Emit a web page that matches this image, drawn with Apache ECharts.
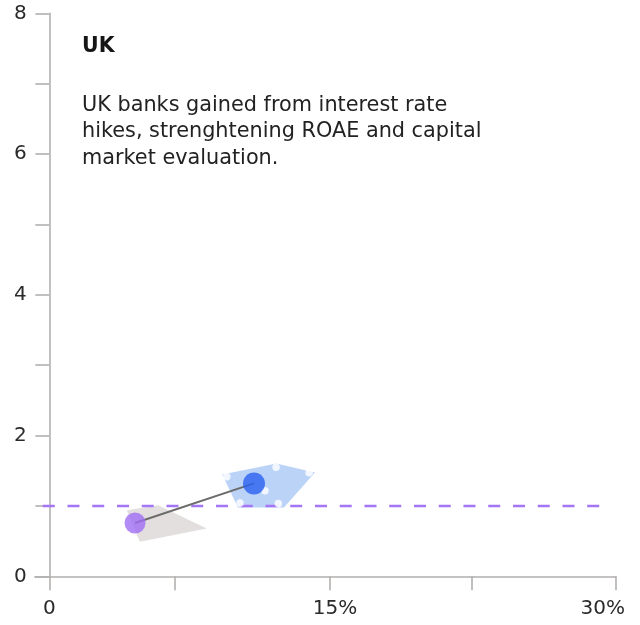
<!DOCTYPE html>
<html>
<head>
<meta charset="utf-8">
<script src="https://cdn.jsdelivr.net/npm/echarts@6/dist/echarts.min.js"></script>
<style>
html,body{margin:0;padding:0;background:#fff;}
#chart{width:640px;height:625px;}
</style>
</head>
<body>
<div id="chart"></div>
<script>
// ---- data ----
const xTickValues = [0, 6.64, 14.87, 22.37, 30];
const xLabelValues = [0, 15, 30];
const yTickValues = [0, 1, 2, 3, 4, 5, 6, 7, 8];
const yLabelValues = [0, 2, 4, 6, 8];

const grayHullX = [4.10, 5.76, 8.34, 4.80];
const grayHullY = [0.94, 1.01, 0.68, 0.49];

const blueHullX = [9.16, 12.03, 14.07, 12.43, 9.99];
const blueHullY = [1.447, 1.603, 1.475, 0.978, 0.978];

const blueDotsX = [9.40, 12.01, 13.76, 12.13, 10.10, 11.42];
const blueDotsY = [1.415, 1.549, 1.472, 1.034, 1.042, 1.216];

const startPoint = [4.54, 0.757];
const endPoint = [10.84, 1.32];

const benchmarkY = 1;
const benchmarkX = [-0.35, 29.6];

const titleText = 'UK';
const bodyText = 'UK banks gained from interest rate\nhikes, strenghtening ROAE and capital\nmarket evaluation.';

// ---- chart ----
const FONT = '"DejaVu Sans", "Noto Sans", sans-serif';
const AXIS_COLOR = '#b3afaf';
const LABEL_COLOR = '#2a2a2a';
const chart = echarts.init(document.getElementById('chart'), null, {renderer: 'canvas'});

function polygonSeries(xs, ys, color, z) {
  return {
    type: 'custom',
    z: z,
    silent: true,
    clip: false,
    data: [[xs[0], ys[0]]],
    renderItem: function (params, api) {
      const pts = xs.map((x, i) => api.coord([x, ys[i]]));
      return {type: 'polygon', shape: {points: pts}, style: {fill: color}};
    }
  };
}

const labelTok = {fontFamily: FONT, fontSize: 20, color: LABEL_COLOR};

const option = {
  animation: false,
  backgroundColor: '#ffffff',
  grid: {left: 34.8, right: 24.3, top: 13.3, bottom: 48.7, containLabel: false},
  xAxis: {
    type: 'value',
    min: -0.77,
    max: 30,
    splitLine: {show: false},
    axisLine: {show: true, onZero: true, lineStyle: {color: AXIS_COLOR, width: 1.6}},
    axisTick: {show: true, length: 14, customValues: xTickValues, lineStyle: {color: AXIS_COLOR, width: 1.6}},
    axisLabel: {
      customValues: xLabelValues,
      margin: 22,
      fontFamily: FONT,
      fontSize: 20,
      color: LABEL_COLOR,
      formatter: v => {
        if (v === 0) return '{z|0}';
        if (v === xLabelValues[xLabelValues.length - 1]) return '{e|' + v + '%}';
        return '{m|' + v + '%}';
      },
      rich: {
        z: Object.assign({}, labelTok),
        m: Object.assign({padding: [0, 0, 0, 5]}, labelTok),
        e: Object.assign({padding: [0, 26, 0, 0]}, labelTok)
      }
    }
  },
  yAxis: {
    type: 'value',
    min: 0,
    max: 8,
    interval: 1,
    splitLine: {show: false},
    axisLine: {show: true, onZero: true, lineStyle: {color: AXIS_COLOR, width: 1.6}},
    axisTick: {show: true, length: 14, customValues: yTickValues, lineStyle: {color: AXIS_COLOR, width: 1.6}},
    axisLabel: {
      customValues: yLabelValues,
      margin: 8,
      fontFamily: FONT,
      fontSize: 20,
      color: LABEL_COLOR
    }
  },
  graphic: [
    {type: 'text', left: 82, top: 36, style: {text: titleText, font: 'bold 20.5px ' + FONT, fill: '#161616'}},
    {type: 'text', left: 82, top: 92, style: {text: bodyText, font: '20.8px ' + FONT, lineHeight: 26.7, fill: '#222222'}}
  ],
  series: [
    polygonSeries(grayHullX, grayHullY, '#e4dfdf', 1),
    polygonSeries(blueHullX, blueHullY, '#bcd3f8', 1),
    {
      type: 'line',
      z: 2,
      silent: true,
      symbol: 'none',
      data: benchmarkX.map(x => [x, benchmarkY]),
      lineStyle: {color: '#a476f5', width: 2.6, type: [12, 12.75]}
    },
    {
      type: 'scatter',
      z: 3,
      silent: true,
      symbolSize: 7.5,
      itemStyle: {color: '#ffffff'},
      data: blueDotsX.map((x, i) => [x, blueDotsY[i]])
    },
    {
      type: 'line',
      z: 4,
      silent: true,
      symbol: 'none',
      data: [startPoint, endPoint],
      lineStyle: {color: '#6b6b6b', width: 2}
    },
    {
      type: 'scatter',
      z: 5,
      silent: true,
      symbolSize: 21,
      itemStyle: {color: '#a06ef4'},
      data: [startPoint]
    },
    {
      type: 'scatter',
      z: 5,
      silent: true,
      symbolSize: 22,
      itemStyle: {color: '#2962f0'},
      data: [endPoint]
    }
  ]
};
chart.setOption(option);
</script>
</body>
</html>
